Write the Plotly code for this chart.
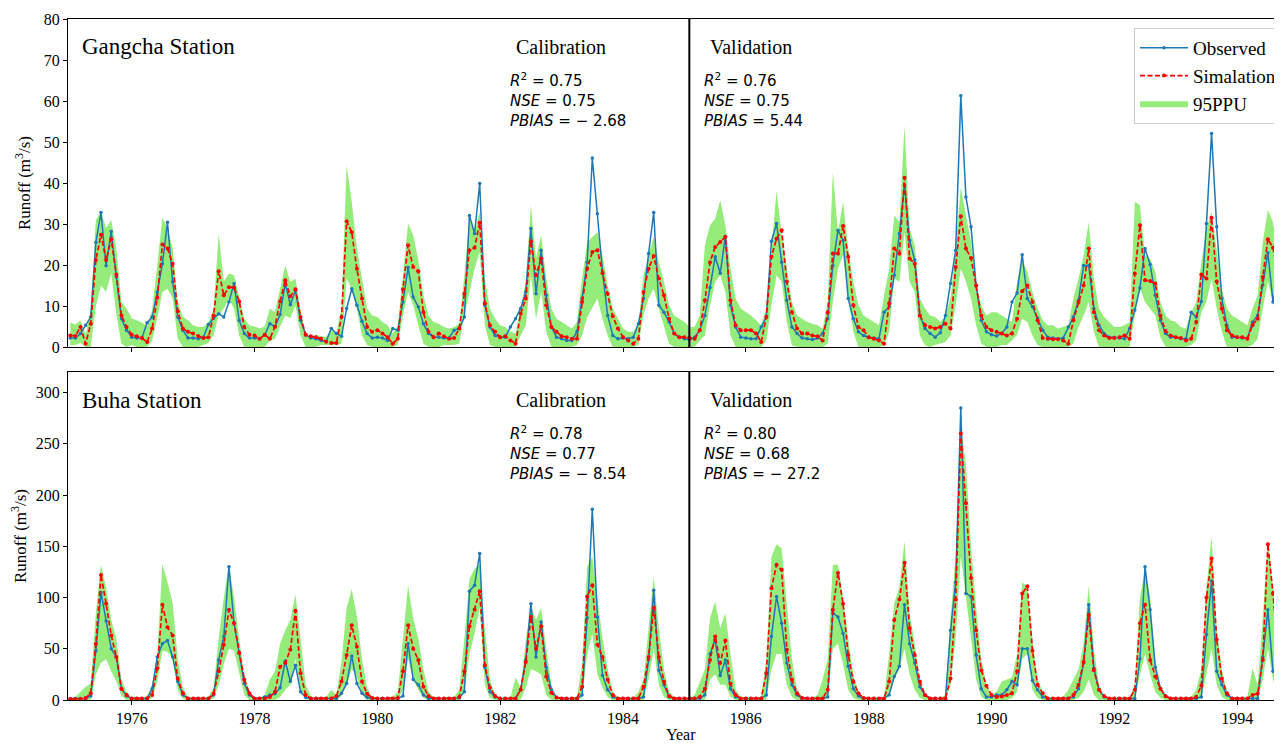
import plotly.graph_objects as go

# ---------------- data (monthly, Jan 1975 .. Oct 1994) ----------------
gangcha_obs = [
    2.2, 2.2, 3.3, 5.3, 7.3, 25.5, 32.8, 19.8, 28.2, 17.1, 6.9, 4.1,
    2.4, 2.2, 2.2, 5.9, 7.3, 13.4, 20.3, 30.4, 15.9, 7.3, 4.1, 2.2,
    2.2, 2.0, 2.4, 5.5, 7.0, 8.1, 7.3, 11.0, 15.5, 6.5, 3.3, 2.2,
    2.2, 2.0, 3.0, 5.7, 4.9, 7.9, 15.5, 10.3, 13.8, 6.5, 3.0, 2.2,
    2.0, 1.6, 1.4, 4.5, 3.3, 2.6, 9.4, 14.2, 10.2, 6.3, 3.3, 2.2,
    2.4, 2.2, 1.6, 4.5, 4.1, 11.0, 19.4, 12.2, 9.8, 5.7, 3.3, 2.4,
    2.4, 2.2, 2.2, 4.1, 4.5, 7.3, 32.1, 27.7, 39.9, 10.2, 4.9, 2.8,
    2.4, 2.4, 4.9, 6.9, 9.4, 13.4, 28.9, 13.0, 23.6, 12.6, 4.9, 2.4,
    2.0, 1.6, 1.6, 3.7, 11.8, 20.7, 46.1, 32.5, 18.3, 7.7, 2.8, 2.0,
    2.2, 2.0, 2.4, 5.7, 11.8, 22.8, 32.8, 10.2, 8.5, 6.1, 3.3, 2.4,
    2.0, 1.8, 2.4, 4.1, 7.7, 14.5, 22.0, 18.0, 26.9, 10.2, 4.9, 2.4,
    2.2, 2.0, 2.0, 4.9, 7.3, 25.8, 30.1, 20.7, 11.4, 4.9, 3.3, 2.2,
    2.0, 1.8, 2.2, 3.3, 6.9, 19.9, 28.5, 26.0, 11.8, 6.9, 3.7, 2.8,
    2.4, 2.2, 2.0, 8.5, 9.8, 17.5, 27.7, 39.5, 26.0, 21.2, 7.7, 4.5,
    3.3, 2.4, 3.5, 7.7, 15.5, 23.6, 61.3, 36.6, 29.3, 15.0, 6.5, 3.7,
    3.0, 2.7, 3.3, 4.9, 11.0, 13.2, 22.5, 11.8, 9.8, 7.1, 4.1, 2.4,
    2.2, 2.0, 2.2, 4.9, 7.3, 11.4, 19.9, 19.8, 9.4, 5.3, 3.3, 2.4,
    2.4, 2.2, 2.0, 4.5, 9.0, 14.4, 24.0, 20.1, 12.6, 6.5, 3.3, 2.4,
    2.4, 2.0, 2.0, 8.5, 7.3, 11.1, 30.1, 52.1, 29.3, 11.8, 5.3, 2.4,
    2.4, 2.2, 2.2, 6.1, 7.7, 15.1, 23.0, 11.0, 16.7, 10.0,
]
gangcha_sim = [
    2.8, 2.7, 4.9, 0.8, 5.7, 21.2, 27.4, 21.2, 26.3, 17.7, 7.7, 4.9,
    3.0, 2.6, 2.2, 1.2, 4.5, 12.0, 25.0, 24.0, 20.3, 8.7, 4.5, 3.7,
    3.3, 2.7, 2.2, 2.4, 7.7, 18.5, 12.6, 14.6, 14.5, 11.1, 4.9, 3.0,
    2.8, 2.0, 3.0, 2.0, 5.0, 11.1, 16.3, 12.4, 14.1, 7.3, 3.0, 2.6,
    2.4, 2.0, 1.3, 1.0, 1.0, 7.3, 30.7, 28.0, 19.1, 11.8, 4.9, 3.7,
    4.1, 3.3, 2.4, 0.8, 2.0, 14.1, 24.8, 19.5, 18.5, 8.5, 3.7, 2.4,
    3.3, 2.6, 2.0, 2.2, 4.5, 13.0, 23.6, 24.2, 30.3, 10.6, 5.3, 3.7,
    2.4, 2.6, 1.6, 0.8, 8.1, 11.8, 25.8, 17.5, 21.6, 10.2, 4.9, 3.7,
    2.6, 2.4, 2.0, 2.0, 11.0, 19.1, 23.2, 23.6, 18.0, 13.0, 7.5, 4.5,
    2.4, 1.6, 0.8, 2.0, 13.4, 19.1, 22.2, 16.7, 12.6, 6.9, 3.3, 2.4,
    2.4, 2.2, 2.0, 4.1, 11.4, 20.7, 24.4, 25.6, 26.9, 11.4, 5.3, 4.1,
    4.1, 4.1, 3.3, 1.2, 7.3, 22.0, 26.4, 28.5, 16.0, 8.5, 4.5, 3.3,
    3.3, 2.8, 2.6, 1.6, 8.5, 22.8, 22.8, 29.5, 22.0, 10.2, 4.9, 4.1,
    2.4, 2.0, 1.6, 0.8, 10.6, 24.0, 22.8, 41.3, 21.6, 20.3, 7.7, 5.3,
    4.9, 4.5, 4.9, 5.7, 4.5, 19.5, 31.9, 24.0, 21.7, 15.0, 7.7, 4.9,
    4.1, 3.7, 3.3, 2.8, 3.3, 6.9, 13.6, 15.0, 11.0, 6.5, 2.2, 2.0,
    1.9, 1.9, 1.6, 0.8, 6.5, 11.0, 15.0, 24.0, 8.5, 4.1, 2.8, 2.2,
    2.2, 2.4, 2.8, 2.0, 17.9, 29.7, 16.3, 16.1, 15.5, 7.7, 3.9, 2.8,
    2.4, 2.2, 1.6, 2.0, 6.1, 17.7, 16.7, 31.5, 16.0, 9.4, 4.1, 2.8,
    2.4, 2.4, 2.0, 5.3, 6.9, 17.1, 26.3, 24.2, 17.5, 12.0,
]
gangcha_upper = [
    6.0, 5.5, 6.5, 3.0, 9.0, 31.0, 33.0, 29.0, 31.0, 24.0, 11.0, 9.4,
    7.0, 6.5, 6.0, 5.0, 9.0, 20.0, 31.5, 29.0, 24.0, 11.0, 7.3, 6.5,
    5.3, 4.9, 4.9, 6.1, 9.0, 27.7, 16.0, 17.9, 17.5, 12.2, 6.9, 5.3,
    5.0, 4.5, 5.0, 9.4, 8.5, 14.2, 19.9, 15.9, 16.7, 9.0, 3.0, 2.5,
    3.0, 2.6, 2.5, 4.0, 3.5, 9.4, 44.3, 35.4, 24.0, 16.7, 9.4, 7.7,
    7.3, 6.1, 5.3, 3.3, 5.3, 17.5, 30.1, 27.3, 21.2, 12.6, 7.7, 6.1,
    5.7, 4.9, 4.5, 4.9, 5.7, 17.5, 31.3, 28.0, 33.0, 16.7, 9.4, 6.9,
    5.3, 4.9, 3.7, 3.3, 9.4, 15.9, 34.6, 21.6, 27.3, 16.7, 9.4, 6.9,
    6.1, 5.3, 4.5, 6.1, 16.7, 25.6, 26.9, 28.0, 22.4, 15.0, 9.4, 6.9,
    4.5, 3.7, 3.7, 5.3, 17.5, 22.4, 27.0, 20.7, 15.9, 10.2, 7.7, 6.9,
    6.1, 4.9, 4.9, 7.7, 24.8, 29.7, 31.3, 35.8, 29.7, 19.1, 11.8, 9.4,
    8.5, 7.7, 6.5, 5.3, 9.4, 24.0, 38.2, 27.3, 19.1, 11.0, 7.7, 6.9,
    6.1, 5.7, 5.3, 4.5, 11.0, 42.7, 28.0, 35.4, 24.0, 15.9, 10.2, 7.7,
    6.9, 6.1, 5.3, 12.6, 19.1, 32.1, 30.5, 54.1, 28.9, 24.8, 11.8, 9.4,
    7.7, 7.3, 6.1, 7.7, 12.0, 24.0, 39.0, 32.1, 25.6, 15.9, 10.2, 7.7,
    8.5, 8.5, 7.7, 6.9, 6.1, 15.9, 21.2, 18.3, 13.4, 9.4, 6.5, 5.3,
    5.3, 4.5, 4.9, 5.3, 11.8, 16.7, 22.4, 30.5, 16.7, 9.4, 7.3, 6.1,
    4.9, 4.9, 5.3, 6.1, 35.4, 34.6, 22.4, 21.6, 18.3, 11.0, 7.7, 6.5,
    6.1, 4.9, 4.5, 8.5, 11.0, 20.7, 28.9, 33.0, 24.0, 14.2, 9.4, 7.7,
    6.9, 6.1, 5.3, 9.4, 12.6, 25.6, 33.4, 30.5, 22.4, 16.0,
]
gangcha_lower = [
    0.5, 0.5, 1.0, 0.0, 0.0, 10.0, 15.0, 13.4, 18.0, 8.0, 0.8, 0.0,
    0.5, 0.0, 0.0, 0.0, 1.5, 7.0, 13.4, 14.2, 11.8, 2.0, 0.0, 0.0,
    0.0, 0.0, 0.5, 1.0, 3.0, 7.7, 9.4, 11.8, 9.4, 2.8, 0.0, 0.0,
    0.0, 0.0, 0.0, 1.5, 2.0, 5.0, 7.7, 7.0, 10.2, 2.8, 0.0, 0.0,
    0.0, 0.5, 0.5, 0.5, 0.5, 0.8, 16.7, 14.2, 9.4, 2.8, 0.4, 0.0,
    0.0, 0.0, 0.0, 0.0, 0.5, 7.7, 13.4, 10.2, 5.3, 0.8, 0.0, 0.0,
    0.0, 0.5, 0.5, 0.5, 0.8, 7.7, 13.4, 19.1, 23.2, 5.3, 0.4, 0.0,
    0.0, 0.0, 0.0, 0.0, 2.8, 5.3, 17.5, 6.9, 13.4, 3.7, 0.0, 0.0,
    0.0, 0.0, 0.0, 0.5, 2.8, 7.3, 9.4, 11.8, 6.9, 2.8, 0.0, 0.0,
    0.0, 0.0, 0.0, 0.5, 7.7, 11.8, 14.2, 9.4, 4.9, 0.8, 0.0, 0.0,
    0.0, 0.0, 0.0, 1.6, 2.8, 10.2, 15.9, 17.5, 13.4, 2.8, 0.0, 0.0,
    0.0, 0.0, 0.0, 0.0, 1.6, 10.2, 17.5, 15.9, 6.1, 0.4, 0.0, 0.0,
    0.0, 0.0, 0.0, 0.0, 0.8, 11.0, 19.1, 22.4, 11.8, 3.7, 0.0, 0.0,
    0.0, 0.0, 0.0, 0.4, 3.7, 16.7, 15.9, 28.0, 15.9, 13.4, 2.8, 0.4,
    0.0, 0.5, 0.8, 1.2, 2.8, 10.2, 19.1, 15.9, 11.8, 5.3, 0.8, 0.0,
    0.0, 0.0, 0.5, 0.5, 1.6, 3.0, 6.9, 6.1, 2.8, 0.4, 0.0, 0.0,
    0.0, 0.0, 0.0, 0.0, 0.8, 4.9, 7.7, 11.0, 3.7, 0.0, 0.0, 0.0,
    0.0, 0.0, 0.0, 0.0, 7.7, 14.2, 11.0, 9.4, 7.7, 2.4, 0.0, 0.0,
    0.0, 0.0, 0.0, 0.4, 1.6, 8.5, 11.0, 16.7, 9.4, 3.7, 0.0, 0.0,
    0.0, 0.0, 0.0, 0.5, 2.0, 9.4, 15.9, 11.0, 6.1, 2.8,
]

buha_obs = [
    1.5, 1.5, 1.5, 1.5, 4, 48, 105, 77, 50, 42, 11, 4,
    1.5, 1.5, 1.5, 1.5, 11, 42, 55, 58, 42, 18, 5, 1.5,
    1.5, 1.5, 1.5, 1.5, 5, 39, 62, 130, 75, 46, 16, 5,
    1.5, 1.5, 3, 5, 6, 12, 38, 18, 34, 8, 2.5, 1.5,
    1.5, 1.5, 1.5, 1.5, 1.5, 6.5, 16, 43, 16, 6.5, 2.5, 1.5,
    1.5, 1.5, 1.5, 1.5, 1.5, 4, 55, 20, 15, 5, 1.5, 1.5,
    1.5, 1.5, 1.5, 1.5, 2, 8, 106, 112, 143, 32, 8, 3,
    1.5, 1.5, 1.5, 1.5, 10, 39, 94, 42, 76, 32, 10, 2.5,
    1.5, 1.5, 1.5, 1.5, 5, 80, 186, 81, 24, 10, 3, 1.5,
    1.5, 1.5, 1.5, 1.5, 3, 39, 107, 29, 15, 3, 1.5, 1.5,
    1.5, 1.5, 1.5, 1.5, 5, 45, 59, 24, 39, 11, 3, 1.5,
    1.5, 1.5, 1.5, 1.5, 5, 62, 101, 75, 36, 15, 5, 1.5,
    1.5, 1.5, 1.5, 1.5, 3, 85, 81, 65, 33, 11, 4, 1.5,
    1.5, 1.5, 1.5, 1.5, 5, 23, 33, 93, 55, 36, 13, 5,
    1.5, 1.5, 1.5, 1.5, 68, 115, 285, 104, 101, 44, 11, 3,
    3, 5, 5, 10, 18, 15, 50, 50, 19, 10, 3, 1.5,
    1.5, 1.5, 1.5, 1.5, 3, 11, 36, 93, 31, 10, 3, 1.5,
    1.5, 1.5, 1.5, 1.5, 1.5, 40, 130, 88, 32, 11, 3.5, 1.5,
    1.5, 1.5, 1.5, 1.5, 1.5, 3, 64, 116, 28, 15, 5, 1.5,
    1.5, 1.5, 1.5, 1.5, 1.5, 42, 88, 28, 28, 15,
]
buha_sim = [
    1, 1, 1, 2, 6.5, 55, 122, 94, 63, 42, 11, 5,
    1.5, 1.5, 1.5, 1.5, 5, 31, 93, 71, 63, 21, 6.5, 1.5,
    1.5, 1.5, 1.5, 1.5, 6, 28, 54, 88, 75, 46, 20, 6.5,
    1.5, 1.5, 1.5, 3, 8, 32.5, 36, 49, 87, 26, 5, 1.5,
    1.5, 1.5, 1.5, 1.5, 4, 18, 44, 73, 52, 18, 6, 2,
    1.5, 1.5, 1.5, 1.5, 2, 28, 73, 50, 39, 13, 4, 1.5,
    1.5, 1.5, 1.5, 1.5, 3, 28, 72, 88, 106, 34, 12, 4,
    1.5, 1.5, 1.5, 1.5, 10, 37, 81, 50, 72, 23, 7, 2.5,
    1.5, 1.5, 1.5, 1.5, 13, 101, 112, 54, 42, 20, 5, 1.5,
    1.5, 1.5, 1.5, 1.5, 13, 42, 90, 42, 18, 4, 1.5, 1.5,
    1.5, 1.5, 1.5, 3, 11, 39, 62, 36, 58, 16, 5, 1.5,
    1.5, 1.5, 1.5, 1.5, 26, 109, 132, 127, 49, 20, 6.5, 2,
    1.5, 1.5, 1.5, 1.5, 10, 88, 124, 94, 44, 18, 6.5, 2,
    1.5, 1.5, 1.5, 1.5, 18, 78, 98, 134, 70, 44, 18, 5,
    1.5, 1.5, 1.5, 1.5, 21, 98, 260, 192, 119, 68, 29, 14,
    5, 3, 3.5, 5, 6.5, 28, 104, 111, 48, 15, 6.5, 1.5,
    1.5, 1.5, 1.5, 1.5, 5, 15, 37, 83, 29, 10, 4, 1.5,
    1.5, 1.5, 1.5, 1.5, 10, 75, 93, 39, 23, 11, 4, 1.5,
    1.5, 1.5, 1.5, 1.5, 3, 14, 100, 138, 59, 21, 6.5, 1.5,
    1.5, 1.5, 1.5, 5, 6, 39, 152, 104, 47, 20,
]
buha_upper = [
    2, 3, 8, 13, 16, 85, 132, 110, 78, 60, 20, 8,
    2, 2, 2, 4, 15, 45, 133, 115, 95, 40, 12, 3,
    2, 2, 2, 3, 12, 60, 100, 132, 100, 60, 25, 8,
    2, 2, 5, 20, 28, 55, 68, 78, 103, 60, 15, 4,
    2, 2, 3, 10, 5, 38, 90, 108, 82, 40, 12, 3,
    2, 2, 2, 3, 8, 60, 112, 80, 60, 30, 8, 3,
    2, 2, 2, 3, 10, 60, 118, 128, 132, 70, 20, 5,
    2, 2, 2, 22, 12, 58, 92, 78, 90, 50, 15, 3,
    2, 2, 2, 3, 35, 130, 140, 100, 60, 30, 8, 3,
    2, 2, 2, 8, 20, 70, 120, 70, 30, 8, 3, 2,
    2, 2, 5, 18, 30, 80, 96, 70, 85, 45, 10, 3,
    2, 2, 2, 3, 40, 140, 152, 148, 95, 40, 10, 3,
    2, 2, 5, 20, 40, 132, 132, 100, 60, 25, 8, 3,
    2, 2, 2, 3, 45, 95, 110, 155, 85, 55, 20, 5,
    2, 2, 2, 5, 80, 140, 268, 230, 150, 90, 40, 15,
    5, 8, 18, 20, 22, 45, 115, 110, 60, 20, 8, 3,
    2, 2, 3, 10, 20, 30, 55, 112, 50, 15, 4, 2,
    2, 2, 2, 3, 15, 100, 127, 100, 40, 15, 5, 2,
    2, 2, 2, 3, 10, 30, 110, 160, 70, 30, 8, 3,
    2, 2, 3, 31, 15, 80, 155, 110, 60, 25,
]
buha_lower = [
    0, 0, 0, 0, 0, 25, 36, 40, 28, 18, 4, 0,
    0, 0, 0, 0, 2, 18, 48, 47, 40, 10, 1, 0,
    0, 0, 0, 0, 1, 15, 35, 50, 48, 25, 5, 0,
    0, 0, 0, 0, 0, 3, 10, 15, 40, 10, 1, 0,
    0, 0, 0, 0, 0, 4, 15, 30, 22, 5, 0, 0,
    0, 0, 0, 0, 0, 10, 40, 20, 10, 2, 0, 0,
    0, 0, 0, 0, 0, 10, 45, 65, 90, 15, 2, 0,
    0, 0, 0, 0, 0, 12, 30, 28, 25, 5, 0, 0,
    0, 0, 0, 0, 2, 45, 65, 25, 12, 3, 0, 0,
    0, 0, 0, 0, 0, 20, 50, 15, 3, 0, 0, 0,
    0, 0, 0, 0, 0, 20, 25, 15, 15, 3, 0, 0,
    0, 0, 0, 0, 0, 30, 45, 45, 15, 3, 0, 0,
    0, 0, 0, 0, 2, 50, 55, 35, 10, 2, 0, 0,
    0, 0, 0, 0, 5, 20, 30, 50, 25, 10, 2, 0,
    0, 0, 0, 0, 15, 60, 140, 100, 60, 20, 3, 0,
    0, 0, 0, 0, 2, 8, 40, 45, 10, 2, 0, 0,
    0, 0, 0, 0, 0, 2, 8, 20, 5, 0, 0, 0,
    0, 0, 0, 0, 0, 25, 45, 25, 8, 2, 0, 0,
    0, 0, 0, 0, 0, 2, 25, 50, 15, 3, 0, 0,
    0, 0, 0, 0, 0, 20, 50, 20, 5, 2,
]

year_ticks = [1976, 1978, 1980, 1982, 1984, 1986, 1988, 1990, 1992, 1994]
split_year = 1985.08
stats = {
    "Gangcha": [("Calibration", ["0.75", "0.75", "\u2212 2.68"]),
                ("Validation", ["0.76", "0.75", "5.44"])],
    "Buha": [("Calibration", ["0.78", "0.77", "\u2212 8.54"]),
             ("Validation", ["0.80", "0.68", "\u2212 27.2"])],
}

n = len(gangcha_obs)
for arr in (gangcha_sim, gangcha_upper, gangcha_lower, buha_obs, buha_sim, buha_upper, buha_lower):
    assert len(arr) == n, len(arr)
months = [1975 + i / 12 for i in range(n)]

# ---------------- figure ----------------
# the page body has an 8px margin, so the figure is sized/offset to land on the window
OFF = 8
W, H = 1282 - OFF, 744 - OFF
ML, MR, MT, MB = 68 - OFF, 0, 19 - OFF, 44
PH = H - MT - MB          # 681
PW = W - ML - MR          # 1214
BLUE = "#1f77b4"
RED = "#ff0000"
GREEN = "rgb(150,236,122)"
SERIF = "Liberation Serif"

fig = go.Figure()
panels = [("x", "y", gangcha_obs, gangcha_sim, gangcha_upper, gangcha_lower, True),
          ("x2", "y2", buha_obs, buha_sim, buha_upper, buha_lower, False)]
for xa, ya, obs, sim, up, lo, show in panels:
    fig.add_trace(go.Scatter(x=months, y=lo, mode="lines", line=dict(width=0, color=GREEN),
                             xaxis=xa, yaxis=ya, showlegend=False, hoverinfo="skip"))
    fig.add_trace(go.Scatter(x=months, y=up, mode="lines", line=dict(width=0, color=GREEN),
                             fill="tonexty", fillcolor=GREEN, name="95PPU", legendrank=3,
                             xaxis=xa, yaxis=ya, showlegend=show))
    fig.add_trace(go.Scatter(x=months, y=obs, mode="lines+markers", name="Observed",
                             line=dict(color=BLUE, width=1.5), marker=dict(size=3.5, color=BLUE),
                             legendrank=1, xaxis=xa, yaxis=ya, showlegend=show))
    fig.add_trace(go.Scatter(x=months, y=sim, mode="lines+markers", name="Simalation",
                             line=dict(color=RED, width=1.7, dash="5px,2.5px"),
                             marker=dict(size=4, color=RED),
                             legendrank=2, xaxis=xa, yaxis=ya, showlegend=show))

# page pixel -> paper fraction helpers (page coords of the reference)
def page_y(py):
    return (H - MB - (py - OFF)) / PH

def frac_x(px):
    return (px - 68) / PW

top_dom = [page_y(347), 1.0]
bot_dom = [0.0, page_y(372)]
xrange_ = [1974.963, 1994.73]

axis_common = dict(showgrid=False, zeroline=False, showline=True, linecolor="black",
                   linewidth=1.2, ticks="outside", ticklen=4, tickwidth=1.1, tickcolor="black",
                   automargin=False,
                   tickfont=dict(family=SERIF, size=16, color="black"))
ytitle = dict(text="Runoff (m<sup>3</sup>/s)", font=dict(family=SERIF, size=17, color="black"), standoff=8)
fig.update_layout(
    width=W, height=H, plot_bgcolor="white", paper_bgcolor="white",
    margin=dict(l=ML, r=MR, t=MT, b=MB, autoexpand=False),
    xaxis=dict(domain=[0, 1], anchor="y", range=xrange_, tickvals=year_ticks,
               showticklabels=False, mirror=True, **axis_common),
    xaxis2=dict(domain=[0, 1], anchor="y2", range=xrange_, tickvals=year_ticks,
                matches="x", mirror=True, **axis_common),
    yaxis=dict(domain=top_dom, anchor="x", range=[0, 80], tickvals=list(range(0, 81, 10)),
               title=ytitle, **axis_common),
    yaxis2=dict(domain=bot_dom, anchor="x2", range=[0, 320], tickvals=list(range(0, 301, 50)),
                title=ytitle, **axis_common),
    legend=dict(x=frac_x(1134), xanchor="left", y=page_y(28), yanchor="top",
                traceorder="normal", itemwidth=48,
                font=dict(family=SERIF, size=19, color="black"), bgcolor="white",
                bordercolor="#cccccc", borderwidth=1, tracegroupgap=0),
    showlegend=True,
)

# split lines
for xa, ya in (("x", "y"), ("x2", "y2")):
    fig.add_shape(type="line", xref=xa, yref=f"{ya} domain", x0=split_year, x1=split_year,
                  y0=0, y1=1, line=dict(color="black", width=2))

annots = []
for (name, label), (ya, top_px) in zip(
        [("Gangcha", "Gangcha Station"), ("Buha", "Buha Station")],
        [("y", 19), ("y2", 372)]):
    def fy(py, top=top_px):
        return 1 - (py - top) / 328
    annots.append(dict(text=label, xref="x domain", yref=f"{ya} domain", x=frac_x(80), y=fy(top_px + 28),
                       xanchor="left", yanchor="middle", showarrow=False,
                       font=dict(family=SERIF, size=23, color="black")))
    for (period, vals), left in zip(stats[name], (514, 708)):
        annots.append(dict(text=period, xref="x domain", yref=f"{ya} domain", x=frac_x(left),
                           y=fy(top_px + 28), xanchor="left", yanchor="middle", showarrow=False,
                           font=dict(family=SERIF, size=20, color="black")))
        lines = [f"<i>R</i><sup>2</sup> = {vals[0]}", f"<i>NSE</i> = {vals[1]}", f"<i>PBIAS</i> = {vals[2]}"]
        for k, t in enumerate(lines):
            annots.append(dict(text=t, xref="x domain", yref=f"{ya} domain", x=frac_x(left - 6),
                               y=fy(top_px + 61 + 20.5 * k), xanchor="left", yanchor="middle",
                               showarrow=False, font=dict(family="DejaVu Sans", size=15, color="black")))
annots.append(dict(text="Year", xref="paper", yref="paper", x=frac_x(681), y=page_y(734),
                   xanchor="center", yanchor="middle", showarrow=False,
                   font=dict(family=SERIF, size=16, color="black")))
fig.update_layout(annotations=annots)

fig.write_html("out.html")
